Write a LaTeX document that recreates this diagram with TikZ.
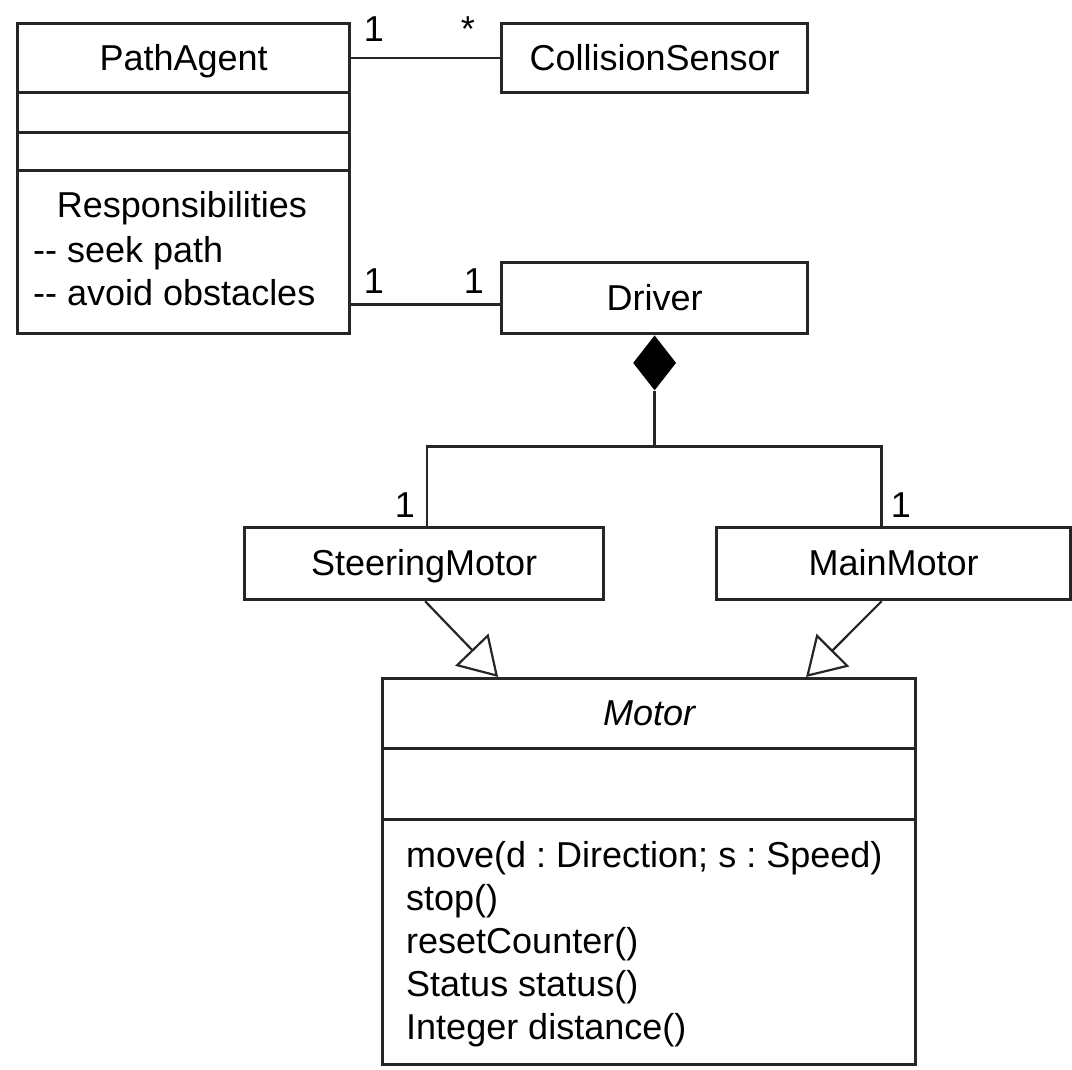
\documentclass[tikz,border=0pt]{standalone}
\usepackage{fontspec}
\setmainfont{Liberation Sans}
\usetikzlibrary{shapes.geometric,arrows.meta,calc}
\frenchspacing
\begin{document}
\begin{tikzpicture}[x=1pt,y=-1pt,
  ln/.style={draw=black!85, line width=3.2pt},
  comp/.style={ln, rectangle, inner sep=0pt, text height=24pt, text depth=0pt, anchor=north west, font=\fontsize{36}{43}\selectfont},
  lbl/.style={inner sep=0pt, anchor=base, font=\fontsize{36}{43}\selectfont},
  txt/.style={inner sep=0pt, anchor=base west, font=\fontsize{36}{43}\selectfont},
  conn/.style={draw=black!85, line width=2.6pt},
  gen/.style={draw=black!85, line width=2.2pt, -{Triangle[open, length=38pt, width=46pt]}}
]
\useasboundingbox (0,0) rectangle (1072,1070);
% PathAgent
\node[comp, minimum width=332pt, minimum height=69pt] (pa1) at (16,22) {PathAgent};
\node[comp, minimum width=332pt, minimum height=40pt] (pa2) at (16,91) {};
\node[comp, minimum width=332pt, minimum height=38pt] (pa3) at (16,131) {};
\node[comp, minimum width=332pt, minimum height=163pt] (pa4) at (16,169) {};
\node[lbl] (r0) at (182,218) {Responsibilities};
\node[txt] (r1) at (33,262) {-\kern0pt- seek path};
\node[txt] (r2) at (33,305) {-\kern0pt- avoid obstacles};
% CollisionSensor, Driver
\node[comp, minimum width=306pt, minimum height=69pt] (cs) at (500,22) {CollisionSensor};
\node[comp, minimum width=306pt, minimum height=71pt] (drv) at (500,261) {Driver};
\node[diamond, fill=black, inner sep=0pt, minimum width=43pt, minimum height=55pt, anchor=north] (dia) at (drv.south) {};
% Motors
\node[comp, minimum width=359pt, minimum height=72pt] (sm) at (243,526) {SteeringMotor};
\node[comp, minimum width=354pt, minimum height=72pt] (mm) at (715,526) {MainMotor};
\node[comp, minimum width=533pt, minimum height=70pt, font=\fontsize{36}{43}\selectfont\itshape] (mot1) at (381,677) {Motor};
\node[comp, minimum width=533pt, minimum height=71pt] (mot2) at (381,747) {};
\node[comp, minimum width=533pt, minimum height=245pt] (mot3) at (381,818) {};
\node[txt] (o1) at (406,867) {move(d : Direction; s : Speed)};
\node[txt] (o2) at (406,910) {stop()};
\node[txt] (o3) at (406,953) {resetCounter()};
\node[txt] (o4) at (406,996) {Status status()};
\node[txt] (o5) at (406,1039) {Integer distance()};
% associations
\draw[conn] (pa1.east) -- (cs.west);
\node[lbl] (m1) at (374,42) {1};
\node[lbl] (m2) at (468,42) {*};
\coordinate (dl) at ([yshift=-6.5pt]drv.west);
\draw[conn] (dl) -- (dl -| pa4.east);
\node[lbl] (m3) at (374,293) {1};
\node[lbl] (m4) at (474,293) {1};
% composition
\coordinate (j) at ($(dia.south)+(0,56)$);
\draw[conn] (dia.south) -- (j);
\draw[conn] ([xshift=3pt]sm.north) |- (j) -| ([xshift=-12pt]mm.north);
\node[lbl] (m5) at (405,517) {1};
\node[lbl] (m6) at (901,517) {1};
% generalisation
\draw[gen] ([xshift=1pt]sm.south) -- ([xshift=-151pt]mot1.north);
\draw[gen] ([xshift=-12pt]mm.south) -- ([xshift=157pt]mot1.north);
\end{tikzpicture}
\end{document}
